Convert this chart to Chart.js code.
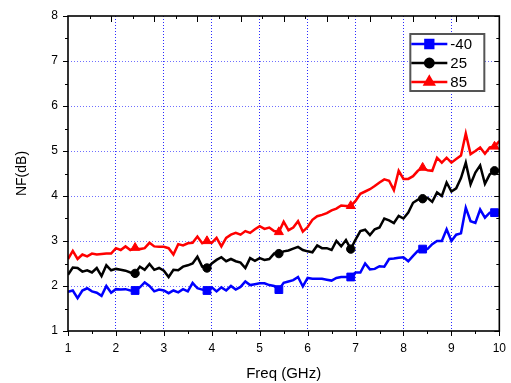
<!DOCTYPE html>
<html><head><meta charset="utf-8">
<script src="https://cdn.jsdelivr.net/npm/chart.js@4.4.0/dist/chart.umd.min.js"></script>
<style>html,body{margin:0;padding:0;background:#fff;} #wrap{width:511px;height:383px;}</style>
</head><body><div id="wrap"><canvas id="c" width="511" height="383"></canvas></div>
<script>
const freqGHz = [1.0,1.1,1.2,1.3,1.4,1.5,1.6,1.7,1.8,1.9,2.0,2.1,2.2,2.3,2.4,2.5,2.6,2.7,2.8,2.9,3.0,3.1,3.2,3.3,3.4,3.5,3.6,3.7,3.8,3.9,4.0,4.1,4.2,4.3,4.4,4.5,4.6,4.7,4.8,4.9,5.0,5.1,5.2,5.3,5.4,5.5,5.6,5.7,5.8,5.9,6.0,6.1,6.2,6.3,6.4,6.5,6.6,6.7,6.8,6.9,7.0,7.1,7.2,7.3,7.4,7.5,7.6,7.7,7.8,7.9,8.0,8.1,8.2,8.3,8.4,8.5,8.6,8.7,8.8,8.9,9.0,9.1,9.2,9.3,9.4,9.5,9.6,9.7,9.8,9.9,10.0];
const nfMinus40 = [1.87,1.90,1.73,1.90,1.95,1.88,1.85,1.78,2.00,1.85,1.93,1.92,1.93,1.90,1.90,1.97,2.08,2.00,1.88,1.92,1.90,1.84,1.90,1.86,1.93,1.88,2.07,1.95,1.92,1.90,1.97,1.88,1.97,1.90,2.00,1.92,1.98,2.10,2.02,2.04,2.06,2.06,2.02,2.00,1.92,2.07,2.10,2.13,2.20,1.99,2.18,2.16,2.16,2.16,2.14,2.12,2.18,2.20,2.20,2.20,2.30,2.30,2.50,2.37,2.38,2.44,2.43,2.60,2.61,2.63,2.64,2.55,2.67,2.78,2.82,2.82,2.93,3.00,3.00,3.26,3.00,3.14,3.17,3.74,3.44,3.40,3.70,3.52,3.63,3.63,3.63];
const nf25 = [2.25,2.41,2.40,2.32,2.35,2.30,2.40,2.22,2.46,2.35,2.38,2.36,2.34,2.30,2.28,2.43,2.36,2.49,2.36,2.40,2.34,2.20,2.36,2.35,2.43,2.46,2.50,2.65,2.43,2.40,2.50,2.58,2.64,2.55,2.60,2.55,2.52,2.40,2.62,2.56,2.62,2.58,2.60,2.72,2.72,2.77,2.79,2.83,2.87,2.80,2.77,2.75,2.90,2.84,2.84,2.80,3.00,2.88,3.02,2.82,3.03,3.22,3.25,3.13,3.26,3.30,3.50,3.46,3.40,3.56,3.50,3.63,3.85,3.92,3.94,3.96,3.87,4.08,4.00,4.30,4.10,4.17,4.40,4.74,4.26,4.52,4.68,4.27,4.48,4.56,4.57];
const nf85 = [2.60,2.78,2.60,2.70,2.66,2.72,2.70,2.71,2.72,2.72,2.84,2.80,2.88,2.80,2.85,2.82,2.84,2.96,2.88,2.87,2.87,2.84,2.70,2.93,2.90,2.95,2.96,3.10,2.95,3.00,2.96,3.07,2.88,3.07,3.14,3.18,3.14,3.22,3.18,3.26,3.33,3.27,3.30,3.22,3.20,3.43,3.24,3.30,3.44,3.21,3.31,3.47,3.55,3.58,3.62,3.68,3.72,3.79,3.78,3.78,3.89,4.05,4.10,4.15,4.22,4.30,4.37,4.34,4.13,4.56,4.38,4.38,4.44,4.56,4.63,4.57,4.56,4.85,4.74,4.85,4.74,4.82,4.90,5.39,4.93,5.00,5.08,4.94,5.08,5.10,5.22];
const seriesLabels = ['-40','25','85'];
const xTickLabels = ['1','2','3','4','5','6','7','8','9','10'];
const yTickLabels = ['1','2','3','4','5','6','7','8'];

const FONT = 'Liberation Sans, Arial, sans-serif';
const toPts = (ys) => ys.map((y,i)=>({x:freqGHz[i], y}));
const markerRadius = (r) => (ctx) => ((ctx.dataIndex + 1) % 15 === 0 ? r : 0);

const framePlugin = {
  id: 'frame',
  afterDraw(chart) {
    const {ctx, chartArea: a, scales: {x, y}} = chart;
    ctx.save();
    ctx.strokeStyle = '#000';
    ctx.lineWidth = 1;
    ctx.beginPath();
    for (let v = 1; v <= 8.001; v += 0.5) {
      const py = Math.round(y.getPixelForValue(v)) + 0.5;
      const major = Math.abs(v - Math.round(v)) < 1e-6;
      const L = major ? 5 : 3;
      ctx.moveTo(a.left - L, py); ctx.lineTo(a.left, py);
      ctx.moveTo(a.right - L, py); ctx.lineTo(a.right, py);
    }
    for (let v = 1; v <= 10.001; v += 0.5) {
      const px = Math.round(x.getPixelForValue(v)) + 0.5;
      const major = Math.abs(v - Math.round(v)) < 1e-6;
      const L = major ? 5 : 3;
      ctx.moveTo(px, a.bottom); ctx.lineTo(px, a.bottom + L);
    }
    for (let i = 1; i < 20; i++) {
      const px = Math.round(a.left + (a.right - a.left) * i / 20) + 0.5;
      const L = i % 2 === 0 ? 6 : 3;
      ctx.moveTo(px, a.top); ctx.lineTo(px, a.top + L);
    }
    ctx.stroke();
    ctx.lineWidth = 1.6;
    ctx.strokeRect(a.left, a.top, a.right - a.left, a.bottom - a.top);
    // legend
    const bw = 74, bh = 57;
    const bx = a.right - 89, by = a.top + 18;
    ctx.fillStyle = '#fff';
    ctx.fillRect(bx, by, bw, bh);
    ctx.strokeStyle = '#555';
    ctx.lineWidth = 2;
    ctx.strokeRect(bx, by, bw, bh);
    chart.data.datasets.forEach((ds, i) => {
      const ly = by + 10 + i * 19;
      ctx.strokeStyle = ds.borderColor;
      ctx.lineWidth = 2.5;
      ctx.beginPath(); ctx.moveTo(bx + 1, ly); ctx.lineTo(bx + 37, ly); ctx.stroke();
      ctx.fillStyle = ds.borderColor;
      Chart.helpers.drawPoint(ctx, {pointStyle: ds.pointStyle, radius: ds.legendRadius, rotation: 0, borderWidth: 1}, bx + 19, ly);
      ctx.fillStyle = '#000';
      ctx.font = '15px ' + FONT;
      ctx.textBaseline = 'middle';
      ctx.textAlign = 'left';
      ctx.fillText(ds.label, bx + 40, ly + 1);
    });
    ctx.restore();
  }
};

const gridColor = (col, lo, hi) => (c) => {
  const v = c.tick ? c.tick.value : NaN;
  return (Number.isInteger(v) && v > lo && v < hi) ? col : 'rgba(0,0,0,0)';
};

new Chart(document.getElementById('c'), {
  type: 'line',
  data: {
    datasets: [
      {label: seriesLabels[0], data: toPts(nfMinus40), borderColor: '#0000ff', backgroundColor: '#0000ff', borderWidth: 2.5, pointStyle: 'rect', pointRadius: markerRadius(5.5), legendRadius: 5.5, pointBorderWidth: 1, tension: 0},
      {label: seriesLabels[1], data: toPts(nf25), borderColor: '#000000', backgroundColor: '#000000', borderWidth: 2.5, pointStyle: 'circle', pointRadius: markerRadius(4.2), legendRadius: 4.2, pointBorderWidth: 1, tension: 0},
      {label: seriesLabels[2], data: toPts(nf85), borderColor: '#ff0000', backgroundColor: '#ff0000', borderWidth: 2.5, pointStyle: 'triangle', pointRadius: markerRadius(5.2), legendRadius: 5.2, pointBorderWidth: 1, tension: 0}
    ]
  },
  options: {
    responsive: false, animation: false, devicePixelRatio: 1,
    layout: {padding: {left: 0, right: 11, top: 16, bottom: 0}},
    plugins: {legend: {display: false}, tooltip: {enabled: false}},
    elements: {point: {hoverRadius: 0}},
    scales: {
      x: {
        type: 'linear', min: 1, max: 10,
        afterFit(s) { s.height = 52; },
        ticks: {stepSize: 0.5, autoSkip: false, maxRotation: 0, padding: 5, color: '#000',
          font: {family: FONT, size: 12},
          callback: (v) => Number.isInteger(v) ? xTickLabels[v - 1] : ''},
        grid: {color: gridColor('#2a2aff', 1, 10), lineWidth: 1, drawTicks: true, tickLength: 5, tickColor: 'rgba(0,0,0,0)'},
        border: {display: false, dash: [1, 2]},
        title: {display: true, text: 'Freq (GHz)', color: '#000', font: {family: FONT, size: 15}, padding: {top: 1, bottom: 0}}
      },
      y: {
        type: 'linear', min: 1, max: 8,
        afterFit(s) { s.width = 68; },
        ticks: {stepSize: 0.5, autoSkip: false, padding: 5, color: '#000',
          font: {family: FONT, size: 12},
          callback: (v) => Number.isInteger(v) ? yTickLabels[v - 1] : ''},
        grid: {color: gridColor('#6f6fff', 1, 8), lineWidth: 1, drawTicks: true, tickLength: 5, tickColor: 'rgba(0,0,0,0)'},
        border: {display: false, dash: [1, 2]},
        title: {display: true, text: 'NF(dB)', color: '#000', font: {family: FONT, size: 14}, padding: {top: 14, bottom: 0}}
      }
    }
  },
  plugins: [framePlugin]
});
</script>
</body></html>
